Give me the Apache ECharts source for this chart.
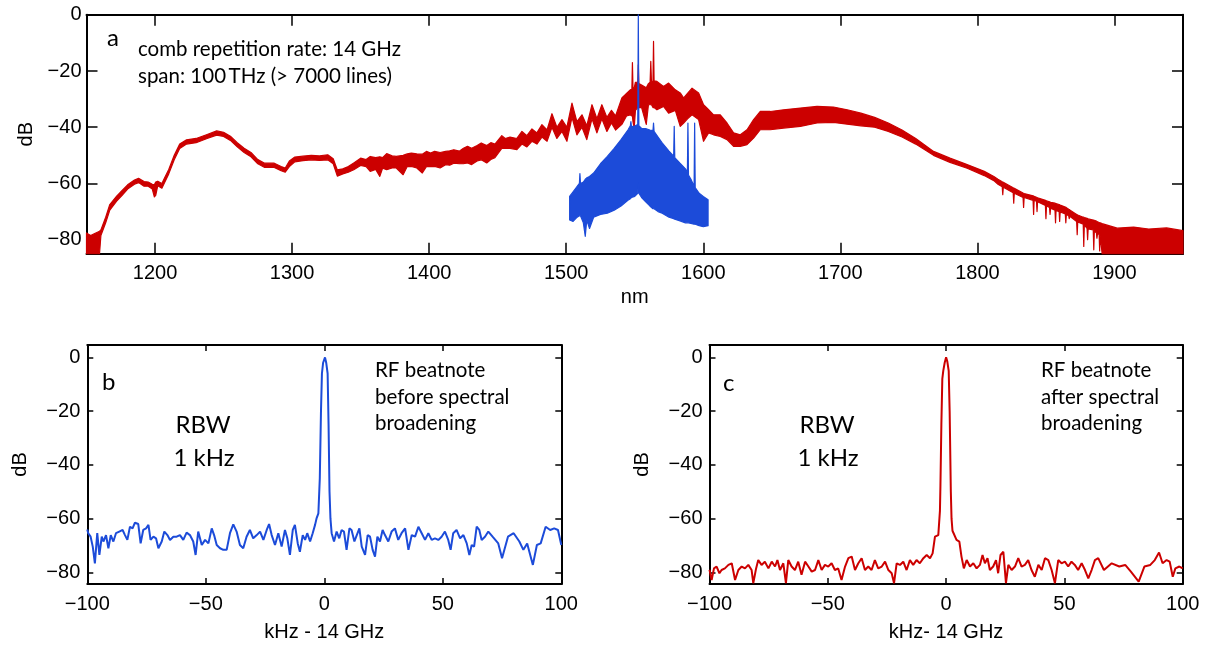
<!DOCTYPE html>
<html><head><meta charset="utf-8">
<script src="https://cdn.jsdelivr.net/npm/echarts@6/dist/echarts.min.js"></script>
<style>html,body{margin:0;padding:0;background:#fff}#c{width:1209px;height:645px}</style>
</head><body><div id="c"></div>
<script>
// ---------- Panel a: optical spectrum (nm, dB) ----------
// broadened comb (red): wavelength, upper edge, lower edge of the trace band
const redNm = [1150,1153,1156,1159.5,1160.5,1164,1167,1172,1176,1180,1185,1188,1192,1195,1198,1199.5,1200.5,1202,1205,1207,1210,1214,1218,1223,1230,1238,1245,1250,1255,1260,1265,1270,1275,1280,1287,1292,1295,1298,1302,1308,1314,1320,1326,1330,1333,1337,1341,1345,1350,1354,1357,1361,1364,1366,1369,1373,1376,1381,1384,1387,1391,1395,1398,1401,1404,1408,1412,1415,1418,1422,1425,1428,1431,1435,1438,1442,1445,1448,1453,1455.5,1459,1464,1467.7,1471.3,1475,1478.6,1482.3,1486,1489.6,1493.2,1496.9,1500.5,1504.2,1507.8,1511.5,1515,1518.8,1522.4,1526,1529.7,1533,1536,1540.6,1544,1546.7,1547.9,1548.3,1548.7,1549.6,1550.5,1552.2,1552.6,1553,1555,1558.4,1560,1561.2,1561.7,1562.2,1563.3,1563.7,1564.1,1566.2,1571,1574.7,1579.6,1583.2,1585.7,1588.5,1591.8,1596.6,1600.2,1603.9,1607.5,1612.4,1617.3,1622.1,1627,1631.9,1636.7,1641.6,1648.9,1658.6,1670.8,1683,1695,1705,1715,1725,1735,1745,1755,1768,1780,1792.5,1805,1812,1815,1818.1,1818.5,1818.9,1826.1,1826.5,1826.9,1833.3,1833.7,1834.1,1840.6,1841,1841.4,1843.1,1843.5,1843.9,1849.6,1850,1850.4,1852.6,1853,1853.4,1856.6,1857,1857.4,1859.6,1860,1860.4,1864.1,1864.5,1864.9,1866.6,1867,1867.4,1872.4,1872.8,1873.2,1877.2,1877.6,1878,1880,1880.4,1880.8,1884.5,1884.9,1885.3,1886.8,1887.2,1887.6,1888.8,1889.2,1889.6,1891,1902,1914,1925,1938,1950];
const redUp = [-77.6,-78.5,-77.8,-77,-76.5,-72,-67.5,-64.5,-62.5,-60.5,-58.8,-58.2,-59.3,-59.5,-60.3,-60.5,-59.5,-59.2,-60,-58,-55,-50,-46,-44.5,-44,-42.6,-41.3,-41.8,-43.2,-45.5,-47.5,-49,-51.5,-52.8,-52.8,-54,-54.5,-52,-50.6,-50.3,-50,-50.2,-49.8,-51.2,-55.2,-54.8,-54,-52.7,-51,-51.5,-50.4,-50.8,-50.5,-50.8,-49.4,-50.2,-50.4,-50,-49.5,-49.2,-49.5,-49.6,-48.6,-49.2,-48.6,-49,-48.6,-48.4,-48,-48.5,-47.5,-46.8,-47.5,-46.5,-45.6,-46.5,-45.5,-46,-43,-44,-43.5,-44,-41.5,-43,-40.6,-42,-39.1,-41,-35.2,-40,-37.3,-40,-31.4,-38,-35.6,-39.5,-32,-37,-32,-36.5,-34,-36,-29.6,-28,-26.7,-26.5,-17,-26,-26,-24,-24,-17.8,-24.5,-25,-26,-24.5,-24,-16.6,-24,-23.5,-9.5,-23.5,-23.7,-25.5,-24.3,-26.7,-27.8,-29.6,-28,-26.1,-27.8,-32,-33.8,-35.6,-35.6,-38.5,-42,-42.7,-40.9,-37.3,-34.4,-34.4,-33.8,-33.2,-32.6,-32.8,-33.8,-35,-36.5,-38.5,-41,-44,-48.6,-51,-53.3,-55.7,-57.5,-58.5,-59.4,-59.5,-59.6,-61.5,-61.6,-61.7,-63.4,-63.5,-63.6,-64.4,-64.5,-64.6,-64.9,-65,-65.1,-66,-66.1,-66.2,-66.5,-66.6,-66.7,-67,-67.1,-67.2,-67.5,-67.6,-67.7,-68.4,-68.5,-68.6,-69.2,-69.3,-69.4,-71,-71.1,-71.2,-72,-72,-72.1,-72.4,-72.5,-72.6,-73,-73,-73.1,-73.4,-73.5,-73.6,-73.9,-74,-74,-74.3,-75.9,-75.5,-76.2,-75.8,-76.8];
const redLo = [-85,-85,-85,-85,-78.5,-74,-69.5,-66.3,-64.2,-62,-60.3,-59.7,-61,-61,-62,-64.8,-64.2,-60.8,-61.7,-59.7,-56.6,-51.6,-47.6,-46,-45.5,-44,-42.8,-43.3,-44.7,-47,-49,-50.5,-53,-54.3,-54.3,-55.5,-56,-54,-52.3,-51.9,-51.6,-51.8,-51.6,-53,-57.4,-56.6,-56,-55.1,-53.6,-54,-55.7,-55,-57.5,-54.6,-55.1,-54.5,-54.5,-56.9,-54,-53.9,-54.5,-56.3,-54,-54,-53.9,-54.5,-53.3,-53.5,-52.8,-53,-53,-52.7,-53.3,-52,-51.6,-52.7,-51.5,-50.8,-47.5,-47.5,-47.5,-48,-46,-47,-45,-46,-43.5,-45,-40,-44,-41.5,-45,-36.5,-42.7,-40,-44.4,-37,-42,-37,-41.5,-38.5,-41,-39,-36,-35.6,-36,-36,-38,-40.3,-34,-33,-33,-33,-33,-39,-32,-32,-32,-32,-33,-33,-33,-33.8,-32.6,-35,-34,-39.7,-38.5,-37,-35.6,-37.3,-45,-42,-42.7,-43.3,-44.4,-46.8,-46.8,-46.2,-43.9,-40.9,-40.9,-40.3,-39.7,-38.5,-38.3,-38.9,-39.5,-40,-41.5,-43.5,-46,-50,-52.5,-54.6,-57.2,-59,-60.3,-61.2,-64,-61.3,-63.3,-67,-63.5,-65,-68.5,-65,-66,-71,-66,-66.3,-70,-66.5,-67.8,-72.5,-68,-68.5,-71,-68.8,-69.5,-74,-69.6,-70,-73.5,-70.1,-70.8,-74,-71,-71.5,-72.5,-71.7,-73.5,-78.2,-73.7,-74.5,-82.4,-74.7,-76,-80,-76.2,-76.5,-83.6,-77,-77.5,-79.5,-78,-78,-84,-78.5,-85,-85,-85,-85,-85,-85];
// seed laser (blue)
const blueNm = [1502.5,1505,1508,1509.6,1510,1510.4,1512.5,1513.9,1515,1517,1520,1525,1530,1535,1540,1545,1546.8,1547.2,1547.6,1550,1552.2,1552.6,1553,1555,1558,1561,1563.3,1563.7,1564.1,1567,1570,1575,1578.4,1578.8,1579.2,1583,1587,1588.4,1588.8,1589.2,1591,1593.3,1593.7,1594.1,1597,1600,1603.5];
const blueUp = [-64.6,-63,-61,-60,-56.5,-60,-59.5,-58.5,-58,-57.5,-56.3,-53,-50.4,-47.5,-44.4,-41,-39.5,-38,-39.8,-39.6,-39,0,-39.5,-40.4,-40.5,-41,-41.2,-38.5,-41.5,-43.5,-45.6,-48.5,-50.3,-39.7,-50.8,-52.8,-54.8,-56,-38.5,-57,-58.5,-61,-38.5,-61.5,-63.5,-64.6,-65.8];
const blueLo = [-73,-73.5,-72,-71.5,-71.5,-71.5,-74,-78.8,-73,-76,-72,-71,-70.6,-69.5,-68,-66,-65.4,-65.2,-65,-64.6,-63.5,-60,-63.5,-65,-66.5,-68,-69,-69,-69,-70,-70.6,-72,-72.5,-72.6,-72.7,-73.3,-74,-74,-74,-74,-74.2,-74.5,-74.5,-74.5,-75,-75.4,-75];
const nmTicks = [1200,1300,1400,1500,1600,1700,1800,1900];
const dbTicks = [-80,-60,-40,-20,0];

// ---------- Panel b: RF beatnote before broadening ----------
const bKHz = [-100,-99.6,-98.6,-97.7,-96.8,-95.8,-94.9,-93.9,-93.2,-92.1,-91.1,-90.1,-89,-87.9,-86.5,-85.1,-84.1,-83.1,-82,-80.9,-79.9,-78.5,-77.5,-76.4,-75.2,-74.2,-73.3,-72.1,-71,-70,-68.6,-67.5,-66.2,-65.1,-63.7,-62.3,-60.9,-59.5,-58.1,-56.7,-55.3,-54.3,-53.2,-51.7,-50.3,-48.9,-47.5,-46.5,-45.4,-44,-42.6,-41.2,-39.8,-38.4,-37,-35.6,-34.2,-32.8,-31.4,-30,-28.5,-27.1,-25.7,-24.3,-23.3,-22.2,-20.8,-19.4,-18,-16.6,-15.6,-14.5,-13.3,-12.4,-11.2,-10.3,-9.1,-8.1,-7.2,-6,-4.9,-3.9,-3.3,-2.5,-1.9,-1.4,-1,-0.5,0.3,0.8,1.4,1.8,2.2,2.6,3.1,4.1,5.2,6.3,7.3,8.3,9.4,10.6,11.5,12.7,13.7,14.8,15.8,17.2,18.3,19.3,20.4,21.4,22.4,23.5,24.6,25.6,27,28.4,29.8,31.2,32.6,34.1,35.5,36.9,38.3,39.7,41.1,42.5,43.9,45.3,46.7,48.1,49.5,50.9,52.3,53.3,54.4,55.8,57.3,58.7,60.1,61.2,62.2,63.2,64.3,65.4,66.4,67.8,69.2,71,73.4,75,77.5,79.9,82.3,84,85.6,88,89.7,91.3,93.4,95.3,97,98.6,100];
const bDb = [-64,-65.4,-66.7,-70.4,-76.6,-65.4,-73.5,-66.7,-68.5,-66.1,-71,-66.1,-68.5,-65.4,-64.8,-64.2,-66.1,-67.9,-63,-63.6,-61.5,-62,-69.2,-64.2,-63.6,-62.3,-67.9,-66.7,-67.3,-71,-68.5,-64.8,-66.1,-67.9,-66.7,-66.7,-66.1,-67.9,-65.2,-66.1,-68.5,-73.5,-64.8,-69.8,-67.9,-69.2,-63.6,-66.1,-69.8,-71,-71.6,-71.6,-65.4,-62.1,-64.8,-69.8,-71,-66.7,-64.2,-67.3,-66.1,-64.8,-67.9,-64.2,-62,-66.1,-69.8,-65.4,-70.4,-64.2,-67.3,-73.5,-64.2,-62.3,-69.2,-72.3,-66.1,-67.9,-65.4,-68.5,-65.4,-62.3,-60,-58,-45,-20,-6,-2,0,-2,-6,-25,-50,-60,-65.4,-68.5,-64.8,-67.3,-64.2,-64.8,-71.6,-63.6,-64.2,-68.5,-66.1,-63.6,-70.4,-73.5,-66.1,-66.7,-71.6,-74.1,-66.7,-68.5,-64.2,-66.1,-68.5,-64.8,-63.6,-67.9,-65.4,-63.6,-71.6,-66.1,-66.7,-63,-65.4,-67.9,-65.4,-67.9,-67.3,-67.9,-66.7,-64.8,-67.9,-71.6,-65.4,-64.2,-67.3,-66.1,-69.2,-73.5,-69.8,-70.4,-63,-64.2,-67.9,-66.7,-64.8,-66.7,-69.2,-74.7,-66.7,-65.4,-68.5,-71.6,-69.2,-77.2,-69.8,-69.2,-63,-64.2,-63.6,-64.2,-69.8];

// ---------- Panel c: RF beatnote after broadening ----------
const cKHz = [-100,-99.1,-98.1,-97,-95.8,-94.9,-93.5,-92,-90.6,-89.2,-87.8,-86.4,-85,-83.6,-82.2,-81.5,-80.3,-79.4,-78,-76.6,-75.1,-73.7,-72.3,-71.3,-70.2,-68.8,-67.7,-66.7,-65.3,-63.9,-62.5,-61.1,-59.6,-58.2,-56.8,-55.4,-54,-52.6,-51.2,-49.8,-48.4,-47,-45.6,-44.2,-42.7,-41.3,-39.9,-38.5,-37.1,-35.7,-34.3,-32.9,-31.5,-30.1,-28.7,-27.2,-25.8,-24.4,-23,-22,-20.9,-19.5,-18.1,-16.7,-15.3,-13.9,-12.5,-11.1,-9.6,-8.2,-6.8,-5.7,-4.7,-3.3,-2.6,-2.4,-2,-1.6,-1.2,-0.6,0,0.5,1.1,1.5,2,2.3,2.7,3,4.4,5.6,6.5,7.5,8.7,10.1,11.5,12.9,14.3,15.4,16.4,17.5,18.5,19.9,21.1,22,23,24.2,25.3,26.3,27.7,29.1,30.5,31.9,33.3,34.7,36.1,37.5,39,40.4,41.8,43.2,44.6,46,47.4,48.8,50.2,51.6,53,54.4,55.8,57.3,58.7,60.1,61.5,62.9,64.3,66.7,70,73.2,75.7,78.1,81.4,83.8,86.3,88.2,90,91.5,93.2,94.5,95.8,96.9,98.6,100];
const cDb = [-79,-82.8,-78.5,-77.8,-80.3,-79.1,-78.5,-77.2,-76.6,-82.8,-79.1,-77.8,-78.5,-77.2,-79.1,-84,-78.5,-75.4,-77.2,-76,-78.5,-76,-77.8,-75.4,-79.1,-76.6,-84,-75.4,-77.8,-79.1,-76,-80.9,-76,-77.8,-79.7,-79.1,-75.4,-79.1,-77.2,-77.8,-76.6,-79.1,-78.5,-82.8,-77.8,-74.7,-74.1,-79.1,-76.6,-74.7,-79.1,-77.8,-79.1,-75.4,-78.5,-77.8,-76,-79.1,-80.3,-84,-76.6,-77.2,-76,-79.1,-75.4,-77.2,-75.4,-76.6,-74.7,-73.5,-74.7,-72.9,-66.7,-66.1,-57,-48,-25,-8,-5,-2,0,-1.5,-5,-20,-50,-60,-64.5,-64.2,-67.9,-68.5,-74.1,-78.5,-75.4,-77.8,-76.6,-78.5,-77.2,-73.5,-76.6,-74.7,-79.1,-77.8,-75.4,-80.3,-73.5,-72.3,-84,-77.2,-79.1,-77.8,-74.7,-77.8,-77.2,-75.4,-79.1,-81.6,-77.2,-79.1,-74.7,-75.4,-79.1,-84,-75.4,-76.6,-76,-77.8,-76,-77.2,-79.1,-76.6,-79.1,-82.2,-79.1,-75.4,-74.7,-79.1,-76.6,-77.8,-77.2,-79.7,-83.4,-77.8,-77.2,-75.4,-72.6,-76.6,-75.4,-76,-81.6,-78.5,-77.8,-78.5];
const kHzTicks = [-100,-50,0,50,100];

// ---------- styling ----------
const RED = '#cc0000', BLUE = '#1c4bd9';
const TICKFONT = 'Liberation Sans';
const NOTEFONT = 'Lato';
const minusFmt = v => (v < 0 ? '\u2212' + Math.abs(v) : String(v));

function axis(kind, g, pos, min, max, ticks, tickLen, showLabels, name, nameGap, margin) {
  return {
    type: 'value', gridIndex: g, position: pos, min: min, max: max,
    axisLine: { show: true, onZero: false, lineStyle: { color: '#000', width: 2 } },
    axisTick: { show: true, inside: true, length: tickLen, customValues: ticks, lineStyle: { color: '#000', width: 1.5 } },
    axisLabel: { show: showLabels, customValues: ticks, formatter: minusFmt, color: '#000',
                 fontFamily: TICKFONT, fontSize: 20, margin: margin },
    splitLine: { show: false },
    name: name || '', nameLocation: 'middle', nameGap: nameGap || 0,
    nameRotate: kind === 'y' ? 90 : 0,
    nameTextStyle: { color: '#000', fontFamily: TICKFONT, fontSize: 20 }
  };
}

function band(xs, up, lo, color) {
  return function (params, api) {
    if (params.dataIndex !== 0) return null;
    const pts = [];
    for (let i = 0; i < xs.length; i++) pts.push(api.coord([xs[i], up[i]]));
    for (let i = xs.length - 1; i >= 0; i--) pts.push(api.coord([xs[i], lo[i]]));
    return { type: 'polygon', shape: { points: pts },
             style: { fill: color, stroke: color, lineWidth: 1.2, lineJoin: 'round' } };
  };
}

const note = (x, y, text, size, align) => ({
  type: 'text', x: x, y: y, z: 100,
  style: { text: text, fill: '#000', font: size + 'px ' + NOTEFONT, align: align || 'left', verticalAlign: 'middle' }
});

const chart = echarts.init(document.getElementById('c'), null, { renderer: 'canvas' });
chart.setOption({
  animation: false,
  backgroundColor: '#fff',
  grid: [
    { left: 86.5, top: 14.75, width: 1096.5, height: 239 },
    { left: 87.3, top: 345, width: 474, height: 239 },
    { left: 709.5, top: 345, width: 473.2, height: 239 }
  ],
  xAxis: [
    axis('x', 0, 'bottom', 1150, 1950, nmTicks, 11, true, 'nm', 34, 10),
    axis('x', 0, 'top', 1150, 1950, nmTicks, 11, false),
    axis('x', 1, 'bottom', -100, 100, kHzTicks, 6, true, 'kHz - 14 GHz', 38, 10),
    axis('x', 1, 'top', -100, 100, kHzTicks, 6, false),
    axis('x', 2, 'bottom', -100, 100, kHzTicks, 6, true, 'kHz- 14 GHz', 38, 10),
    axis('x', 2, 'top', -100, 100, kHzTicks, 6, false)
  ],
  yAxis: [
    axis('y', 0, 'left', -85, 0, dbTicks, 11, true, 'dB', 50, 5),
    axis('y', 0, 'right', -85, 0, dbTicks, 11, false),
    axis('y', 1, 'left', -84.3, 4.6, dbTicks, 6, true, 'dB', 57, 7),
    axis('y', 1, 'right', -84.3, 4.6, dbTicks, 6, false),
    axis('y', 2, 'left', -84.3, 4.6, dbTicks, 6, true, 'dB', 57, 7),
    axis('y', 2, 'right', -84.3, 4.6, dbTicks, 6, false)
  ],
  series: [
    { type: 'custom', xAxisIndex: 0, yAxisIndex: 0, z: 2,
      data: redNm.map((x, i) => [x, redUp[i], redLo[i]]), encode: { x: 0, y: [1, 2] },
      renderItem: band(redNm, redUp, redLo, RED) },
    { type: 'custom', xAxisIndex: 0, yAxisIndex: 0, z: 3,
      data: blueNm.map((x, i) => [x, blueUp[i], blueLo[i]]), encode: { x: 0, y: [1, 2] },
      renderItem: band(blueNm, blueUp, blueLo, BLUE) },
    { type: 'line', xAxisIndex: 2, yAxisIndex: 2, showSymbol: false, symbol: 'none',
      lineStyle: { color: BLUE, width: 2 }, data: bKHz.map((x, i) => [x, bDb[i]]) },
    { type: 'line', xAxisIndex: 4, yAxisIndex: 4, showSymbol: false, symbol: 'none',
      lineStyle: { color: RED, width: 2 }, data: cKHz.map((x, i) => [x, cDb[i]]) }
  ],
  graphic: [
    note(107, 38, 'a', 24),
    note(138, 49, 'comb repetition rate: 14 GHz', 20.5),
    note(138, 76, 'span: 100\u2009THz (> 7000 lines)', 20.5),
    note(102, 382, 'b', 24),
    note(203, 425, 'RBW', 24, 'center'),
    note(204, 458, '1 kHz', 24, 'center'),
    note(375, 370, 'RF beatnote', 20.5),
    note(375, 397, 'before spectral', 20.5),
    note(375, 423, 'broadening', 20.5),
    note(723, 383, 'c', 24),
    note(827, 425, 'RBW', 24, 'center'),
    note(828, 458, '1 kHz', 24, 'center'),
    note(1041, 370, 'RF beatnote', 20.5),
    note(1041, 397, 'after spectral', 20.5),
    note(1041, 423, 'broadening', 20.5)
  ]
});
</script></body></html>
